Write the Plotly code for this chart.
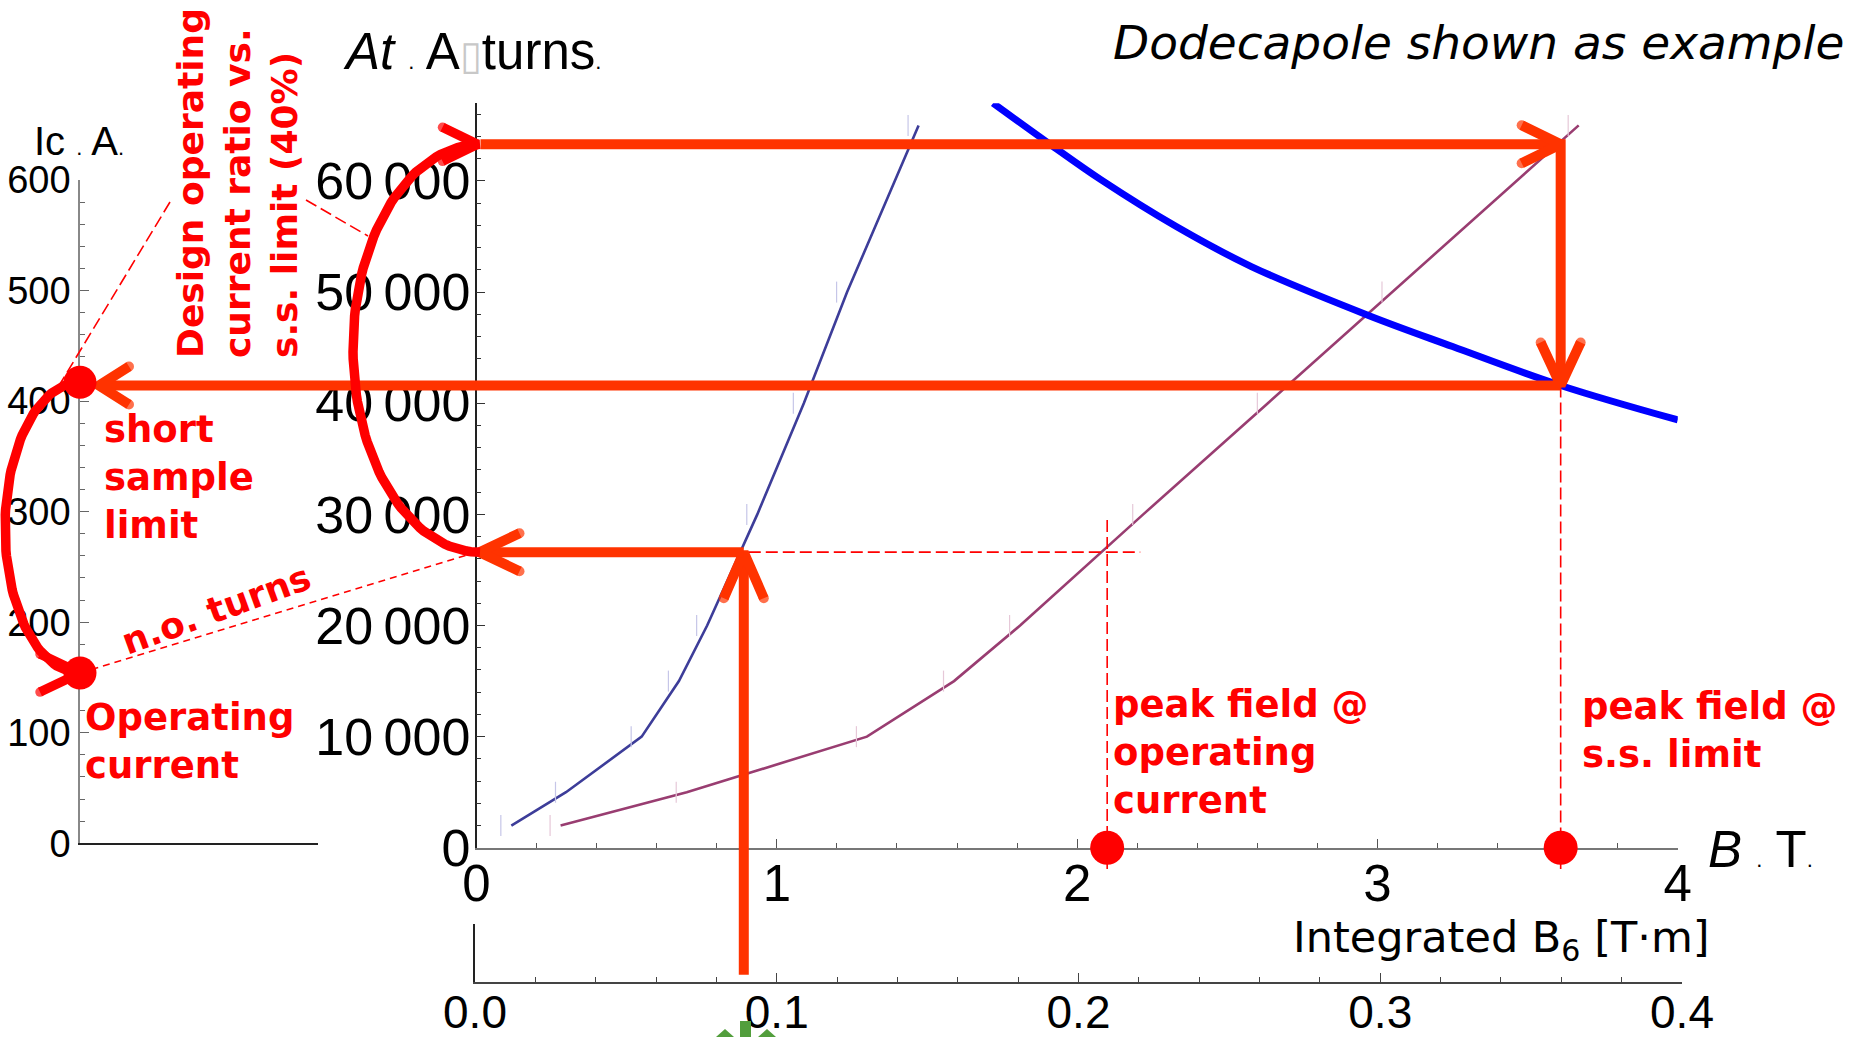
import numpy as np
import plotly.graph_objects as go

W, H = 1854, 1037

# ---------------- data ----------------
# Ampere-turns needed vs peak field on the conductor, two coil layouts
coil1_B = [0.116, 0.298, 0.550, 0.674, 0.768, 0.935, 1.090, 1.234, 1.472]
coil1_At = [2000, 5000, 10000, 15000, 20000, 30000, 40000, 50000, 65000]
coil2_B = [0.28, 0.70, 1.30, 1.59, 1.81, 2.22, 2.635, 3.05, 3.67]
coil2_At = [2000, 5000, 10000, 15000, 20000, 30000, 40000, 50000, 65000]

# Conductor critical ampere-turns vs field
crit_B = [1.72, 1.91, 2.08, 2.33, 2.58, 2.97, 3.25, 3.61, 4.00]
crit_At = [67000, 63300, 60100, 55900, 52300, 47900, 45100, 41600, 38500]

# Operating point construction
B6_required = 0.089      # integrated B6 [T·m]
B_required = 0.89        # field where the coil 1 curve meets the required strength [T]
At_op = 26600            # ampere-turns at operating current
At_design = 63300        # ampere-turns at the 40 % design ratio
B_ss = 3.61              # peak field at short-sample limit [T]
At_ss = 41600            # ampere-turns at short-sample limit
B_op = 2.10              # peak field at operating current [T]
Ic_ss = 417              # short-sample current [A]
Ic_op = 154              # operating current [A]

# Tick values / labels
at_ticks = [0, 10000, 20000, 30000, 40000, 50000, 60000]
at_tick_text = ["0" if v == 0 else f"{v // 1000}\u2009000" for v in at_ticks]
b_ticks = [0, 1, 2, 3, 4]
ic_ticks = [0, 100, 200, 300, 400, 500, 600]
b6_ticks = [0.0, 0.1, 0.2, 0.3, 0.4]

# ---------------- page geometry (pixels) ----------------
B_PX = (476.5, 1677.8)            # B = 0 T and B = 4 T
AT_PY0, AT_PX_PER_10K = 847.8, 111.14
AT_MAX = 67000
IC_AXIS_PX, IC_PY0, IC_PX_PER_100 = 80.0, 843.3, 110.55
IC_PANEL_RIGHT = 318.0
B6_PX = (475.0, 1682.0)
B6_PY, B6_TOP_PY = 981.7, 924.0

ARROW = "#ff3300"
ARC = "#ff0000"
TICK_FONT = "Liberation Sans, Arial, sans-serif"
LABEL_FONT = "DejaVu Sans, Verdana, sans-serif"


def b2px(b):
    return B_PX[0] + b * (B_PX[1] - B_PX[0]) / 4


def px2b(x):
    return (x - B_PX[0]) * 4 / (B_PX[1] - B_PX[0])


def at2py(a):
    return AT_PY0 - a * AT_PX_PER_10K / 10000


def py2at(y):
    return (AT_PY0 - y) * 10000 / AT_PX_PER_10K


def ic2py(i):
    return IC_PY0 - i * IC_PX_PER_100 / 100


def py2ic(y):
    return (IC_PY0 - y) * 100 / IC_PX_PER_100


def px(x):
    return x / W


def py(y):
    return 1 - y / H


fig = go.Figure()

# ---------------- main curves ----------------
fig.add_trace(go.Scatter(x=coil1_B, y=coil1_At, mode="lines",
                         line=dict(color="rgb(61,61,153)", width=2.6),
                         hoverinfo="skip", showlegend=False))
fig.add_trace(go.Scatter(x=coil2_B, y=coil2_At, mode="lines",
                         line=dict(color="rgb(153,61,113)", width=2.6),
                         hoverinfo="skip", showlegend=False))
fig.add_trace(go.Scatter(x=crit_B, y=crit_At, mode="lines",
                         line=dict(color="rgb(0,0,255)", width=7, shape="spline"),
                         hoverinfo="skip", showlegend=False))
# faint error-bar stubs next to the sampled points
for xs, ys, col in [(coil1_B, coil1_At, "#c6c6e8"), (coil2_B, coil2_At, "#e6c8d8")]:
    fig.add_trace(go.Scatter(x=[v - 0.035 for v in xs], y=ys, mode="markers",
                             marker=dict(symbol="line-ns", size=15,
                                         line=dict(width=1.2, color=col)),
                             hoverinfo="skip", showlegend=False))

# empty traces so the auxiliary panels are laid out
fig.add_trace(go.Scatter(x=[], y=[], xaxis="x2", yaxis="y3", showlegend=False))
fig.add_trace(go.Scatter(x=[], y=[], xaxis="x3", yaxis="y2", showlegend=False))


# ---------------- construction overlay ----------------
def add_line(x, y, yaxis="y4", color=ARROW, width=10, dash=None, caps=False):
    kw = {}
    if caps:
        # round the free ends of arrow-head strokes
        sizes = [width] + [0] * (len(x) - 2) + [width]
        kw = dict(mode="lines+markers", marker=dict(size=sizes, color=color, line=dict(width=0)))
    fig.add_trace(go.Scatter(x=x, y=y, xaxis="x4", yaxis=yaxis,
                             mode=kw.pop("mode", "lines"),
                             line=dict(color=color, width=width, dash=dash),
                             hoverinfo="skip", showlegend=False, **kw))


DIRS = {"right": (1, 0), "left": (-1, 0), "up": (0, -1), "down": (0, 1)}


def chevron(tip_b, tip_v, direction, yaxis="y4", back=40, half=19,
            color=ARROW, width=10):
    to_py, from_py = (at2py, py2at) if yaxis == "y4" else (ic2py, py2ic)
    tx, ty = b2px(tip_b), to_py(tip_v)
    dx, dy = DIRS[direction]
    nx, ny = -dy, dx
    xs = [tx - back * dx + half * nx, tx, tx - back * dx - half * nx]
    ys = [ty - back * dy + half * ny, ty, ty - back * dy - half * ny]
    add_line([px2b(v) for v in xs], [from_py(v) for v in ys], yaxis, color, width, caps=True)


def half_ellipse(cx_b, lo, hi, rx_px, yaxis, color=ARC, width=9.5):
    to_py, from_py = (at2py, py2at) if yaxis == "y4" else (ic2py, py2ic)
    t = np.linspace(np.pi / 2, 3 * np.pi / 2, 90)
    cx = b2px(cx_b)
    cy = (to_py(lo) + to_py(hi)) / 2
    ry = (to_py(lo) - to_py(hi)) / 2
    xs = cx + rx_px * np.cos(t)
    ys = cy - ry * np.sin(t)
    add_line([px2b(v) for v in xs], [from_py(v) for v in ys], yaxis, color, width)


DASH = "12px,5px"
ic_axis_b = px2b(IC_AXIS_PX)

# thin dashed guides
add_line([B_required - 0.04, B_op + 0.11], [At_op, At_op], color=ARC, width=1.6, dash=DASH)
add_line([B_op, B_op], [29500, py2at(869)], color=ARC, width=1.6, dash=DASH)
add_line([B_ss, B_ss], [At_ss, py2at(869)], color=ARC, width=1.6, dash=DASH)
add_line([ic_axis_b, 0.0], [py2at(ic2py(Ic_op)), At_op], color=ARC, width=1.6, dash="7px,5px")
add_line([px2b(306), px2b(368)], [py2at(200), py2at(236)], color=ARC, width=1.6, dash=DASH)
add_line([px2b(170), px2b(60)], [py2at(202), py2at(384)], color=ARC, width=1.6, dash=DASH)

# required strength -> ampere-turns
add_line([B_required, B_required], [py2at(B6_PY - 7), At_op])
chevron(B_required, At_op, "up", back=46, half=20)
add_line([B_required, px2b(B_PX[0] + 3)], [At_op, At_op])
chevron(px2b(B_PX[0] + 3), At_op, "left")

# design ampere-turns -> short-sample field -> short-sample ampere-turns
add_line([px2b(B_PX[0] + 4), B_ss], [At_design, At_design])
chevron(B_ss, At_design, "right", back=39)
add_line([B_ss, B_ss], [py2at(at2py(At_design) - 5), At_ss])
chevron(B_ss, At_ss, "down", back=43, half=20)
add_line([B_ss, px2b(IC_AXIS_PX + 19)], [At_ss, At_ss])
chevron(px2b(IC_AXIS_PX + 19), At_ss, "left", back=30, half=19)

# 40 % ratio arc between the two ampere-turn levels
half_ellipse(px2b(B_PX[0] + 3.5), At_op, At_design, 127, "y4")
chevron(px2b(B_PX[0] + 1), At_design, "right", back=35, half=17, color=ARC, width=9.5)

# short sample -> operating current arc
half_ellipse(ic_axis_b, Ic_op, Ic_ss, 75, "y5")
chevron(ic_axis_b, Ic_op, "right", yaxis="y5", back=40, half=19, color=ARC, width=9.5)

# markers
fig.add_trace(go.Scatter(x=[ic_axis_b, ic_axis_b], y=[Ic_ss, Ic_op], xaxis="x4", yaxis="y5",
                         mode="markers", marker=dict(color=ARC, size=33),
                         hoverinfo="skip", showlegend=False))
fig.add_trace(go.Scatter(x=[B_op, B_ss], y=[0, 0], xaxis="x4", yaxis="y4",
                         mode="markers", marker=dict(color=ARC, size=34),
                         hoverinfo="skip", showlegend=False))

# ---------------- axes ----------------
tick_common = dict(showgrid=False, zeroline=False, ticks="inside", tickwidth=1.2,
                   automargin=False)
plain = dict(showgrid=False, zeroline=False, automargin=False)

fig.update_layout(
    width=W, height=H, autosize=False,
    margin=dict(l=0, r=0, t=0, b=0, pad=0, autoexpand=False),
    paper_bgcolor="white", plot_bgcolor="rgba(0,0,0,0)",
    xaxis=dict(domain=[px(B_PX[0]), px(B_PX[1])], range=[0, 4], anchor="y",
               showline=True, linecolor="#777", linewidth=1.5,
               tickvals=b_ticks, ticktext=[str(v) for v in b_ticks],
               ticklen=9, tickcolor="#555", ticklabelstandoff=-10,
               tickfont=dict(family=TICK_FONT, size=51, color="black"),
               minor=dict(tickmode="linear", tick0=0, dtick=0.2, ticks="inside",
                          ticklen=5, tickcolor="#555", showgrid=False),
               **tick_common),
    yaxis=dict(domain=[py(AT_PY0), py(at2py(AT_MAX))], range=[0, AT_MAX], anchor="x",
               showline=True, linecolor="#222", linewidth=1.5,
               tickvals=at_ticks, ticktext=at_tick_text,
               ticklen=9, tickcolor="#333", ticklabelstandoff=-6,
               tickfont=dict(family=TICK_FONT, size=52, color="black"),
               minor=dict(tickmode="linear", tick0=0, dtick=2000, ticks="inside",
                          ticklen=5, tickcolor="#333", showgrid=False),
               **tick_common),
    xaxis2=dict(domain=[px(B6_PX[0]), px(B6_PX[1])], range=[0, 0.4], anchor="y3",
                showline=True, linecolor="#444", linewidth=1.5,
                tickvals=b6_ticks, ticktext=[f"{v:.1f}" for v in b6_ticks],
                ticklen=9, tickcolor="#444", ticklabelstandoff=-11,
                tickfont=dict(family=TICK_FONT, size=46, color="black"),
                minor=dict(tickmode="linear", tick0=0, dtick=0.02, ticks="inside",
                           ticklen=5, tickcolor="#444", showgrid=False),
                **tick_common),
    yaxis3=dict(domain=[py(B6_PY), py(B6_TOP_PY)], range=[0, 1], anchor="x2",
                showline=True, linecolor="#222", linewidth=1.5, ticks="",
                showticklabels=False, **plain),
    yaxis2=dict(domain=[py(IC_PY0), py(ic2py(600))], range=[0, 600], anchor="x3",
                showline=True, linecolor="#888", linewidth=1.5,
                tickvals=ic_ticks, ticktext=[str(v) for v in ic_ticks],
                ticklen=9, tickcolor="#666", ticklabelstandoff=0,
                tickfont=dict(family=TICK_FONT, size=38, color="black"),
                minor=dict(tickmode="linear", tick0=0, dtick=20, ticks="inside",
                           ticklen=5, tickcolor="#666", showgrid=False),
                **tick_common),
    xaxis3=dict(domain=[px(IC_AXIS_PX), px(IC_PANEL_RIGHT)], range=[0, 1], anchor="y2",
                showline=True, linecolor="#222", linewidth=1.5, ticks="",
                showticklabels=False, **plain),
    # full-page overlay axes sharing the B / At and Ic scales
    xaxis4=dict(domain=[0, 1], range=[px2b(0), px2b(W)], anchor="y4", visible=False, **plain),
    yaxis4=dict(domain=[0, 1], range=[py2at(H), py2at(0)], anchor="x4", visible=False, **plain),
    yaxis5=dict(domain=[0, 1], range=[py2ic(H), py2ic(0)], anchor="x4", visible=False, **plain),
)

# ---------------- text ----------------
small = "<span style='font-size:22px'>.</span>"
ann = [
    dict(text="<i>Dodecapole shown as example</i>", x=px(1112), y=py(43),
         xanchor="left", yanchor="middle",
         font=dict(family=LABEL_FONT, size=47, color="black")),
    dict(text=f"<i>At</i> {small} A<span style='color:#c8c8c8;font-size:40px'>\u25af</span>turns{small}",
         x=px(342), y=py(52), xanchor="left", yanchor="middle",
         font=dict(family=TICK_FONT, size=51, color="black")),
    dict(text=f"Ic {small} A{small}", x=px(33), y=py(141), xanchor="left", yanchor="middle",
         font=dict(family=TICK_FONT, size=40, color="black")),
    dict(text=f"<i>B</i> {small} T{small}", x=px(1707), y=py(849), xanchor="left",
         yanchor="middle", font=dict(family=TICK_FONT, size=51, color="black")),
    dict(text="Integrated B<sub>6</sub> [T·m]", x=px(1711), y=py(940), xanchor="right",
         yanchor="middle", font=dict(family=LABEL_FONT, size=43, color="black")),
    dict(text="<b>short<br>sample<br>limit</b>", x=px(103), y=py(477), xanchor="left",
         yanchor="middle", align="left", font=dict(family=LABEL_FONT, size=37, color=ARC)),
    dict(text="<b>Operating<br>current</b>", x=px(84), y=py(741), xanchor="left",
         yanchor="middle", align="left", font=dict(family=LABEL_FONT, size=37, color=ARC)),
    dict(text="<b>peak field @<br>operating<br>current</b>", x=px(1112), y=py(752),
         xanchor="left", yanchor="middle", align="left",
         font=dict(family=LABEL_FONT, size=37, color=ARC)),
    dict(text="<b>peak field @<br>s.s. limit</b>", x=px(1581), y=py(730),
         xanchor="left", yanchor="middle", align="left",
         font=dict(family=LABEL_FONT, size=37, color=ARC)),
    dict(text="<b>n.o. turns</b>", x=px(216), y=py(609), xanchor="center", yanchor="middle",
         textangle=-20, font=dict(family=LABEL_FONT, size=36, color=ARC)),
    dict(text="<b>Design operating<br>current ratio vs.<br>s.s. limit (40%)</b>",
         x=px(237), y=py(183), xanchor="center", yanchor="middle", align="left",
         textangle=-90, font=dict(family=LABEL_FONT, size=36, color=ARC)),
]
for a in ann:
    a.update(xref="paper", yref="paper", showarrow=False, borderpad=0)
fig.update_layout(annotations=ann)

# green pointer peeking in at the bottom edge
GREEN = "rgb(82,158,60)"
fig.update_layout(shapes=[
    dict(type="rect", xref="paper", yref="paper", x0=px(740), x1=px(751),
         y0=py(1037), y1=py(1021), fillcolor=GREEN, line=dict(width=0), layer="above"),
    dict(type="path", xref="paper", yref="paper", layer="above", fillcolor=GREEN,
         line=dict(width=0),
         path=f"M {px(716)},{py(1037)} L {px(725)},{py(1029)} L {px(734)},{py(1037)} Z"),
    dict(type="path", xref="paper", yref="paper", layer="above", fillcolor=GREEN,
         line=dict(width=0),
         path=f"M {px(758)},{py(1037)} L {px(767)},{py(1029)} L {px(776)},{py(1037)} Z"),
])

fig.write_html("out.html")
